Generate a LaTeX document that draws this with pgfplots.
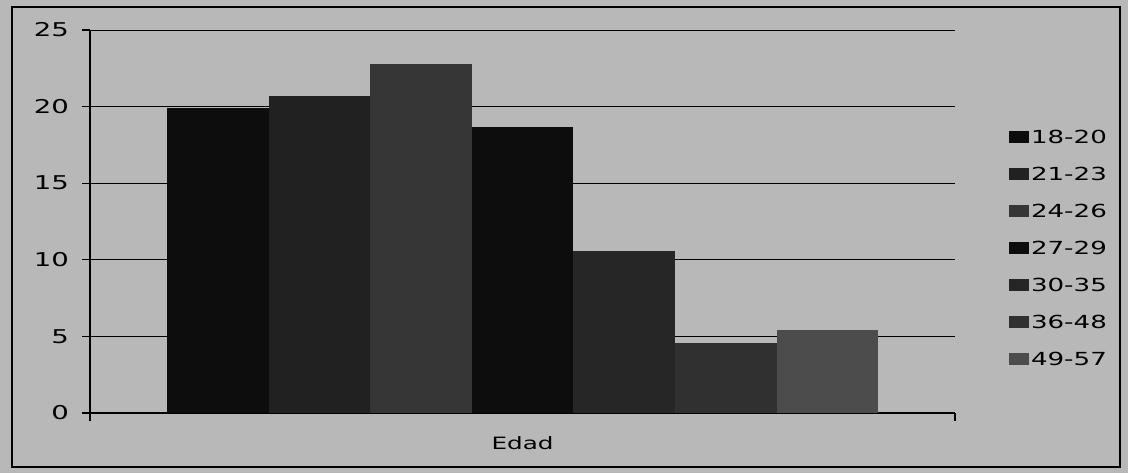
\documentclass[border=0pt]{standalone}
\usepackage{fontspec}
\setmainfont{DejaVu Sans}[FakeStretch=1.45]
\usepackage{pgfplots}
\pgfplotsset{compat=1.18}
\definecolor{bg}{gray}{0.72}
\pgfplotsset{sqlegend/.style={legend image code/.code={\fill[##1] (0pt,-3pt) rectangle (10pt,3pt);}}}

\begin{document}
\begin{tikzpicture}[x=1pt,y=1pt]
\useasboundingbox (0,0) rectangle (564,236.5);
\fill[bg] (0,0) rectangle (564,236.5);
\draw[black, line width=0.8pt] (6,3) rectangle (560,233);
\begin{axis}[
    at={(45pt,30pt)}, anchor=south west,
    scale only axis, width=432.5pt, height=191.5pt,
    ybar=0pt, bar width=50.8pt,
    every axis plot post/.append style={sqlegend},
    xmin=-1, xmax=1, ymin=0, ymax=25,
    axis x line*=bottom, axis y line*=left,
    axis line style={black, line width=0.6pt},
    ytick={0,5,10,15,20,25},
    ymajorgrids, grid style={black, line width=0.5pt},
    tick align=outside, major tick length=4pt,
    tick style={black, line width=0.6pt},
    xtick={-1,1}, xticklabels={},
    extra x ticks={0}, extra x tick labels={Edad},
    extra x tick style={major tick length=0pt, xticklabel style={yshift=-8.5pt}},
    xticklabel style={font=\fontsize{8.5}{10}\selectfont},
    yticklabel style={font=\fontsize{9.5}{11}\selectfont, xshift=-3pt},
    /pgf/number format/assume math mode=true,
    legend style={at={(1.062,0.745)}, anchor=north west, draw=none, fill=none,
        inner sep=0pt, row sep=10pt, font=\fontsize{9}{10}\selectfont,
        nodes={inner sep=1pt, text height=6.5pt, text depth=0pt}},
    legend cell align=left,
]
\addplot[fill=black!95, draw=none] coordinates {(0,19.9)};
\addplot[fill=black!87, draw=none] coordinates {(0,20.7)};
\addplot[fill=black!79, draw=none] coordinates {(0,22.8)};
\addplot[fill=black!95, draw=none] coordinates {(0,18.7)};
\addplot[fill=black!85, draw=none] coordinates {(0,10.6)};
\addplot[fill=black!81, draw=none] coordinates {(0,4.6)};
\addplot[fill=black!70, draw=none] coordinates {(0,5.4)};
\legend{18-20,21-23,24-26,27-29,30-35,36-48,49-57}
\end{axis}
\end{tikzpicture}
\end{document}
